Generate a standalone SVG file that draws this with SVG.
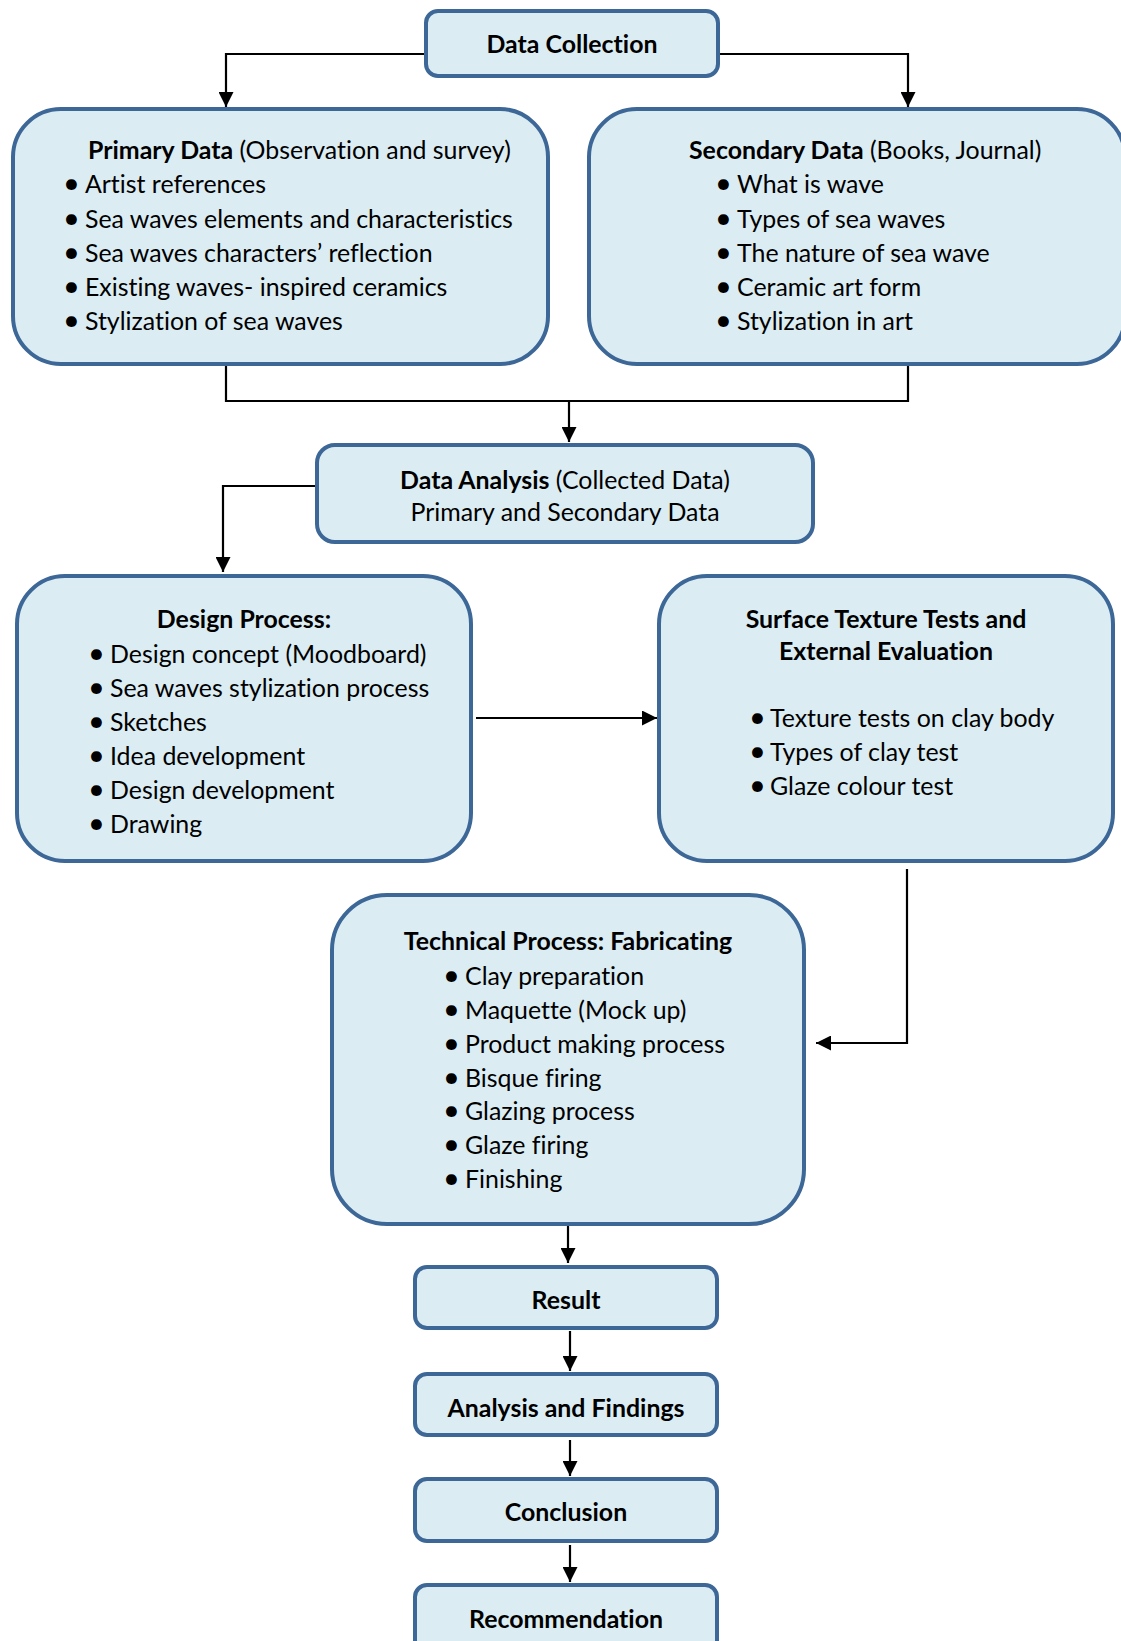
<svg xmlns="http://www.w3.org/2000/svg" width="1121" height="1641" viewBox="0 0 1121 1641">
<style>
.box{fill:#DBEDF3;stroke:#3C6797;stroke-width:4}
.t{font-family:Lato,"Open Sans",sans-serif;font-size:24.9px;fill:#000;font-variant-ligatures:none}
.b{font-weight:bold}
.c{text-anchor:middle}
.u{font-size:29px}
.conn{fill:none;stroke:#000;stroke-width:2.2}
</style>
<defs>
<marker id="ah" markerUnits="userSpaceOnUse" markerWidth="15" markerHeight="15" refX="15" refY="7.5" orient="auto">
<path d="M0,0 L15,7.5 L0,15 z" fill="#000"/>
</marker>
</defs>
<rect width="1121" height="1641" fill="#fff"/>
<g id="connectors">
<path class="conn" d="M426,54 H226 V107" marker-end="url(#ah)"/>
<path class="conn" d="M718,54 H908 V107" marker-end="url(#ah)"/>
<path class="conn" d="M226,364 V401 H908 V364"/>
<path class="conn" d="M569,401 V442" marker-end="url(#ah)"/>
<path class="conn" d="M317,486 H223 V572" marker-end="url(#ah)"/>
<path class="conn" d="M476,718 H657" marker-end="url(#ah)"/>
<path class="conn" d="M907,869 V1043 H816" marker-end="url(#ah)"/>
<path class="conn" d="M568,1224 V1263" marker-end="url(#ah)"/>
<path class="conn" d="M570,1331 V1371" marker-end="url(#ah)"/>
<path class="conn" d="M570,1440 V1476" marker-end="url(#ah)"/>
<path class="conn" d="M570,1545 V1582" marker-end="url(#ah)"/>
</g>
<g id="data-collection">
<rect class="box" x="426" y="11" width="292" height="65" rx="12"/>
<text class="t b c" x="572" y="52.5">Data Collection</text>
</g>
<g id="primary-data">
<rect class="box" x="13" y="109" width="535" height="255" rx="48"/>
<text class="t" x="88" y="158.5"><tspan class="b">Primary Data</tspan> (Observation and survey)</text>
<text class="t" y="193"><tspan class="u" x="63">•</tspan><tspan x="85">Artist references</tspan></text>
<text class="t" y="227.5"><tspan class="u" x="63">•</tspan><tspan x="85">Sea waves elements and characteristics</tspan></text>
<text class="t" y="261.5"><tspan class="u" x="63">•</tspan><tspan x="85">Sea waves characters’ reflection</tspan></text>
<text class="t" y="295.5"><tspan class="u" x="63">•</tspan><tspan x="85">Existing waves- inspired ceramics</tspan></text>
<text class="t" y="329.5"><tspan class="u" x="63">•</tspan><tspan x="85">Stylization of sea waves</tspan></text>
</g>
<g id="secondary-data">
<rect class="box" x="589" y="109" width="536" height="255" rx="48"/>
<text class="t" x="689" y="158.5"><tspan class="b">Secondary Data</tspan> (Books, Journal)</text>
<text class="t" y="193"><tspan class="u" x="715">•</tspan><tspan x="737">What is wave</tspan></text>
<text class="t" y="227.5"><tspan class="u" x="715">•</tspan><tspan x="737">Types of sea waves</tspan></text>
<text class="t" y="261.5"><tspan class="u" x="715">•</tspan><tspan x="737">The nature of sea wave</tspan></text>
<text class="t" y="295.5"><tspan class="u" x="715">•</tspan><tspan x="737">Ceramic art form</tspan></text>
<text class="t" y="329.5"><tspan class="u" x="715">•</tspan><tspan x="737">Stylization in art</tspan></text>
</g>
<g id="data-analysis">
<rect class="box" x="317" y="445" width="496" height="97" rx="18"/>
<text class="t c" x="565" y="488.5"><tspan class="b">Data Analysis</tspan> (Collected Data)</text>
<text class="t c" x="565" y="520.5">Primary and Secondary Data</text>
</g>
<g id="design-process">
<rect class="box" x="17" y="576" width="454" height="285" rx="48"/>
<text class="t b c" x="244" y="627.5">Design Process:</text>
<text class="t" y="662.5"><tspan class="u" x="88">•</tspan><tspan x="110">Design concept (Moodboard)</tspan></text>
<text class="t" y="696.5"><tspan class="u" x="88">•</tspan><tspan x="110">Sea waves stylization process</tspan></text>
<text class="t" y="730.5"><tspan class="u" x="88">•</tspan><tspan x="110">Sketches</tspan></text>
<text class="t" y="764.5"><tspan class="u" x="88">•</tspan><tspan x="110">Idea development</tspan></text>
<text class="t" y="798.5"><tspan class="u" x="88">•</tspan><tspan x="110">Design development</tspan></text>
<text class="t" y="832.5"><tspan class="u" x="88">•</tspan><tspan x="110">Drawing</tspan></text>
</g>
<g id="surface-texture">
<rect class="box" x="659" y="576" width="454" height="285" rx="48"/>
<text class="t b c" x="886" y="627.5">Surface Texture Tests and</text>
<text class="t b c" x="886" y="659.5">External Evaluation</text>
<text class="t" y="726.5"><tspan class="u" x="749">•</tspan><tspan x="770">Texture tests on clay body</tspan></text>
<text class="t" y="760.5"><tspan class="u" x="749">•</tspan><tspan x="770">Types of clay test</tspan></text>
<text class="t" y="794.5"><tspan class="u" x="749">•</tspan><tspan x="770">Glaze colour test</tspan></text>
</g>
<g id="technical-process">
<rect class="box" x="332" y="895" width="472" height="329" rx="55"/>
<text class="t b c" x="568" y="949.5">Technical Process: Fabricating</text>
<text class="t" y="984.5"><tspan class="u" x="443">•</tspan><tspan x="465">Clay preparation</tspan></text>
<text class="t" y="1018.5"><tspan class="u" x="443">•</tspan><tspan x="465">Maquette (Mock up)</tspan></text>
<text class="t" y="1052.5"><tspan class="u" x="443">•</tspan><tspan x="465">Product making process</tspan></text>
<text class="t" y="1086.5"><tspan class="u" x="443">•</tspan><tspan x="465">Bisque firing</tspan></text>
<text class="t" y="1119.5"><tspan class="u" x="443">•</tspan><tspan x="465">Glazing process</tspan></text>
<text class="t" y="1153.5"><tspan class="u" x="443">•</tspan><tspan x="465">Glaze firing</tspan></text>
<text class="t" y="1187.5"><tspan class="u" x="443">•</tspan><tspan x="465">Finishing</tspan></text>
</g>
<g id="result">
<rect class="box" x="415" y="1267" width="302" height="61" rx="12"/>
<text class="t b c" x="566" y="1308.5">Result</text>
</g>
<g id="analysis-findings">
<rect class="box" x="415" y="1374" width="302" height="61" rx="12"/>
<text class="t b c" x="566" y="1416.5">Analysis and Findings</text>
</g>
<g id="conclusion">
<rect class="box" x="415" y="1479" width="302" height="62" rx="12"/>
<text class="t b c" x="566" y="1520.5">Conclusion</text>
</g>
<g id="recommendation">
<rect class="box" x="415" y="1585" width="302" height="80" rx="12"/>
<text class="t b c" x="566" y="1627.5">Recommendation</text>
</g>
</svg>
